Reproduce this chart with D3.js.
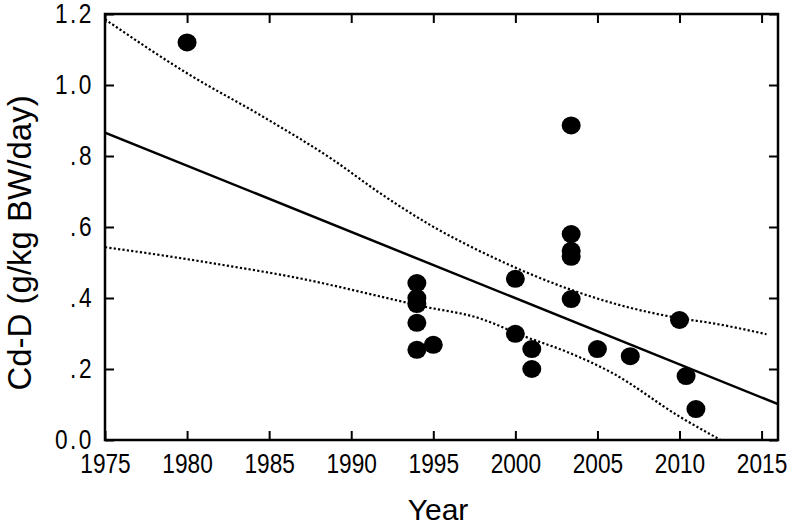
<!DOCTYPE html>
<html>
<head>
<meta charset="utf-8">
<script src="https://cdn.jsdelivr.net/npm/d3@7"></script>
<style>
  body { margin: 0; background: #fff; }
  svg { display: block; }
  .tick text { font-family: "Liberation Sans", Arial, sans-serif; font-size: 27px; fill: #000; }
  .title { font-family: "Liberation Sans", Arial, sans-serif; fill: #000; }
</style>
</head>
<body>
<div class="chart"></div>
<script>
const width = 792
const height = 532

// measured points (year, Cd-D)
const years = [1980, 1994, 1994, 1994, 1994, 1994, 1995, 2000, 2000, 2001, 2001,
    2003.4, 2003.4, 2003.4, 2003.4, 2003.4, 2005, 2007, 2010, 2010.4, 2011]
const values = [1.12, 0.442, 0.40, 0.383, 0.33, 0.254, 0.268, 0.454, 0.299, 0.256, 0.20,
    0.886, 0.58, 0.533, 0.516, 0.397, 0.256, 0.236, 0.338, 0.18, 0.087]

// regression line end points
const fitYears = [1975, 2016]
const fitValues = [0.866, 0.101]

// 95% band, upper and lower
const upperYears = [1975, 1980, 1984.8, 1988.9, 1991.7, 1994.8, 1998.7, 2003.4, 2005.9, 2010, 2012, 2015.3]
const upperValues = [1.185, 1.033, 0.906, 0.789, 0.697, 0.606, 0.513, 0.423, 0.386, 0.343, 0.329, 0.298]
const lowerYears = [1975, 1978.8, 1982.2, 1986.9, 1991.7, 1994.3, 1997.8, 2000.6, 2003.1, 2005.9, 2010, 2012.5]
const lowerValues = [0.543, 0.518, 0.493, 0.455, 0.405, 0.377, 0.343, 0.291, 0.249, 0.189, 0.066, 0.0]

const xTicks = [1975, 1980, 1985, 1990, 1995, 2000, 2005, 2010, 2015]
const yTicks = [0, 0.2, 0.4, 0.6, 0.8, 1.0, 1.2]
const yTickLabels = ["0.0", ".2", ".4", ".6", ".8", "1.0", "1.2"]

const svg = d3.select(".chart").append("svg")
    .attr("width", width)
    .attr("height", height)

const x = d3.scaleLinear().domain([1975, 2016]).range([105, 778])
const y = d3.scaleLinear().domain([0, 1.2]).range([440, 14])

// clip so band lines stay inside the frame
svg.append("clipPath").attr("id", "plotClip")
    .append("rect")
    .attr("x", x(1975)).attr("y", y(1.2))
    .attr("width", x(2016) - x(1975)).attr("height", y(0) - y(1.2))

const plot = svg.append("g").attr("clip-path", "url(#plotClip)")

const line = d3.line().x(d => x(d[0])).y(d => y(d[1]))

// dotted bands
plot.append("path")
    .datum(upperYears.map((d, i) => [d, upperValues[i]]))
    .attr("d", line.curve(d3.curveMonotoneX))
    .attr("fill", "none")
    .attr("stroke", "#000")
    .attr("stroke-width", 2.2)
    .attr("stroke-dasharray", "2.2,2.2")

plot.append("path")
    .datum(lowerYears.map((d, i) => [d, lowerValues[i]]))
    .attr("d", line.curve(d3.curveMonotoneX))
    .attr("fill", "none")
    .attr("stroke", "#000")
    .attr("stroke-width", 2.2)
    .attr("stroke-dasharray", "2.2,2.2")

// regression line
plot.append("path")
    .datum(fitYears.map((d, i) => [d, fitValues[i]]))
    .attr("d", line.curve(d3.curveLinear))
    .attr("fill", "none")
    .attr("stroke", "#000")
    .attr("stroke-width", 2.5)

// points
svg.selectAll(".dot")
    .data(years.map((d, i) => [d, values[i]]))
    .enter()
    .append("ellipse")
    .attr("class", "dot")
    .attr("cx", d => x(d[0]))
    .attr("cy", d => y(d[1]))
    .attr("rx", 9.5)
    .attr("ry", 9)
    .attr("fill", "#000")

// axes, ticks pointing inward
const squeeze = 0.84

const xAxis = svg.append("g")
    .attr("transform", `translate(0,${y(0)})`)
    .call(d3.axisBottom(x).tickValues(xTicks).tickFormat(d3.format("d")).tickSizeInner(-9).tickSizeOuter(0).tickPadding(14))
xAxis.selectAll(".tick text")
    .attr("transform", `scale(${squeeze},1)`)

svg.append("g")
    .attr("transform", `translate(0,${y(1.2)})`)
    .call(d3.axisTop(x).tickValues(xTicks).tickFormat("").tickSizeInner(-9).tickSizeOuter(0))

const yAxis = svg.append("g")
    .attr("transform", `translate(${x(1975)},0)`)
    .call(d3.axisLeft(y).tickValues(yTicks).tickFormat((d, i) => yTickLabels[i]).tickSizeInner(-9).tickSizeOuter(0))
yAxis.selectAll(".tick text")
    .attr("x", -11 / squeeze)
    .attr("letter-spacing", "3px")
    .attr("transform", `scale(${squeeze},1)`)

svg.append("g")
    .attr("transform", `translate(${x(2016)},0)`)
    .call(d3.axisRight(y).tickValues(yTicks).tickFormat("").tickSizeInner(-9).tickSizeOuter(0))

svg.selectAll(".domain").remove()
svg.selectAll(".tick line").attr("stroke", "#000").attr("stroke-width", 2)

// frame
svg.append("rect")
    .attr("x", x(1975)).attr("y", y(1.2))
    .attr("width", x(2016) - x(1975)).attr("height", y(0) - y(1.2))
    .attr("fill", "none")
    .attr("stroke", "#000")
    .attr("stroke-width", 2.5)

// titles
svg.append("text")
    .attr("class", "title")
    .attr("x", 438)
    .attr("y", 520)
    .attr("text-anchor", "middle")
    .style("font-size", "30px")
    .text("Year")

svg.append("text")
    .attr("class", "title")
    .attr("transform", "translate(31,243) rotate(-90)")
    .attr("text-anchor", "middle")
    .style("font-size", "33px")
    .text("Cd-D (g/kg BW/day)")
</script>
</body>
</html>
